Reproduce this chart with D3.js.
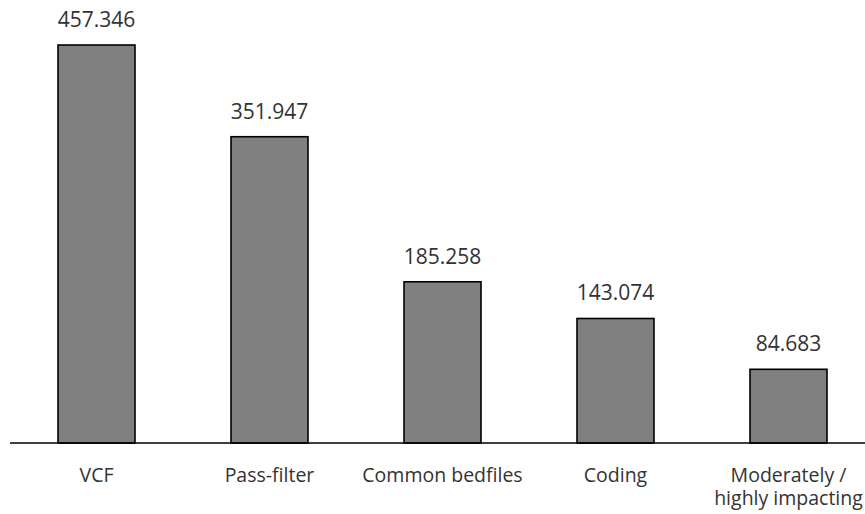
<!DOCTYPE html>
<html>
<head>
<meta charset="utf-8">
<script src="https://cdn.jsdelivr.net/npm/d3@7"></script>
<style>
  html, body { margin: 0; padding: 0; background: #fff; }
  svg { display: block; }
  text { font-family: "Open Sans", "Noto Sans", sans-serif; fill: #333; }
</style>
</head>
<body>
<div id="chart"></div>
<script>
// Variant counts after each filtering step
const categories = ["VCF", "Pass-filter", "Common bedfiles", "Coding", "Moderately /\nhighly impacting"];
const values = [457.346, 351.947, 185.258, 143.074, 84.683];
const valueLabels = ["457.346", "351.947", "185.258", "143.074", "84.683"];

const width = 865, height = 514;
const baseY = 443;

const svg = d3.select("#chart").append("svg")
  .attr("width", width)
  .attr("height", height);

const x = d3.scaleBand()
  .domain(categories)
  .range([10, 875])
  .paddingInner(0.555)
  .paddingOuter(0.2775);

const y = d3.scaleLinear()
  .domain([0, d3.max(values)])
  .range([baseY, 45]);

const data = categories.map((c, i) => ({ cat: c, value: values[i], label: valueLabels[i] }));

svg.append("g").selectAll("rect")
  .data(data)
  .join("rect")
  .attr("x", d => x(d.cat))
  .attr("y", d => y(d.value))
  .attr("width", x.bandwidth())
  .attr("height", d => y(0) - y(d.value))
  .attr("fill", "#808080")
  .attr("stroke", "#000")
  .attr("stroke-width", 1.6);

// Value labels above each bar
svg.append("g").selectAll("text")
  .data(data)
  .join("text")
  .attr("x", d => x(d.cat) + x.bandwidth() / 2)
  .attr("y", d => y(d.value) - 18)
  .attr("text-anchor", "middle")
  .style("font-size", "21px")
  .text(d => d.label);

// Baseline axis
const axis = d3.axisBottom(x).tickSize(0).tickFormat("");
const gAxis = svg.append("g")
  .attr("transform", `translate(0,${baseY})`)
  .call(axis);
gAxis.select(".domain").attr("stroke", "#000").attr("stroke-width", 1.6)
  .attr("d", `M10,0H${width}`);

// Category labels, possibly on two lines
const catText = svg.append("g").selectAll("text")
  .data(data)
  .join("text")
  .attr("x", d => x(d.cat) + x.bandwidth() / 2)
  .attr("y", 482)
  .attr("text-anchor", "middle")
  .style("font-size", "19.5px");

catText.each(function(d) {
  const lines = d.cat.split("\n");
  const t = d3.select(this);
  lines.forEach((ln, i) => {
    t.append("tspan")
      .attr("x", x(d.cat) + x.bandwidth() / 2)
      .attr("dy", i === 0 ? 0 : 23)
      .text(ln);
  });
});
</script>
</body>
</html>
